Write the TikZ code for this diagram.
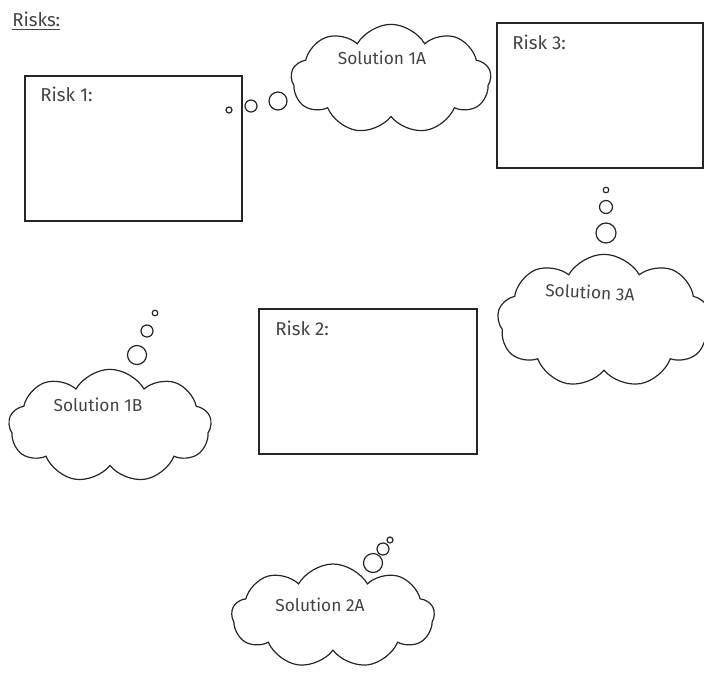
\documentclass[tikz,border=0pt]{standalone}
\usepackage{fontspec}
\setmainfont{Fira Sans}
\usetikzlibrary{shapes.symbols}
\definecolor{inkgray}{HTML}{444444}
\begin{document}
\begin{tikzpicture}[x=0.75pt, y=-0.75pt,
    riskbox/.style = {draw, line width=1.2pt, black!85},
    risklabel/.style = {anchor=north west, inner sep=0pt, text=inkgray, font=\fontsize{14}{16}\selectfont},
    thought/.style = {cloud, cloud puffs=9, cloud puff arc=120, cloud ignores aspect, draw=black!85, line width=0.9pt, inner sep=0pt},
    idea/.style = {text=inkgray, inner sep=0pt, font=\fontsize{13}{15}\selectfont},
    bubble/.style = {draw=black!85, line width=0.9pt}]
    \useasboundingbox (0, 0) rectangle (704, 672);
    \node[anchor=west, inner sep=0pt, text=inkgray, font=\fontsize{14}{16}\selectfont] (title) at (12, 21) {\underline{Risks:}};
    % risk boxes
    \draw[riskbox] (25, 76) rectangle (242, 221);
    \node[risklabel] (risk1) at (40, 87) {Risk 1:};
    \draw[riskbox] (259, 309) rectangle (477, 454);
    \node[risklabel] (risk2) at (275, 321) {Risk 2:};
    \draw[riskbox] (497, 23) rectangle (703, 168);
    \node[risklabel] (risk3) at (512, 35) {Risk 3:};
    % thought clouds
    \node[thought, minimum width=150pt, minimum height=82pt] (sol1a) at (391, 79) {};
    \node[idea] (txt1a) at (382, 58) {Solution 1A};
    \node[thought, minimum width=160pt, minimum height=100pt] (sol3a) at (604, 321) {};
    \node[idea, rotate=-3] (txt3a) at (590, 292) {Solution 3A};
    \node[thought, minimum width=152pt, minimum height=85pt] (sol1b) at (110, 426) {};
    \node[idea] (txt1b) at (98, 405) {Solution 1B};
    \node[thought, minimum width=152pt, minimum height=78pt] (sol2a) at (333, 616) {};
    \node[idea] (txt2a) at (320, 605) {Solution 2A};
    % bubbles
    \draw[bubble] (229, 110) circle (3);
    \draw[bubble] (251, 106) circle (6);
    \draw[bubble] (278, 101) circle (9);
    \draw[bubble] (606, 190) circle (2.8);
    \draw[bubble] (606, 207) circle (6.5);
    \draw[bubble] (606, 233) circle (10);
    \draw[bubble] (155, 313) circle (2.8);
    \draw[bubble] (147, 331) circle (6);
    \draw[bubble] (137, 355) circle (9.5);
    \draw[bubble] (390, 540) circle (3);
    \draw[bubble] (383, 549) circle (6);
    \draw[bubble] (373, 563) circle (9.5);
\end{tikzpicture}
\end{document}
